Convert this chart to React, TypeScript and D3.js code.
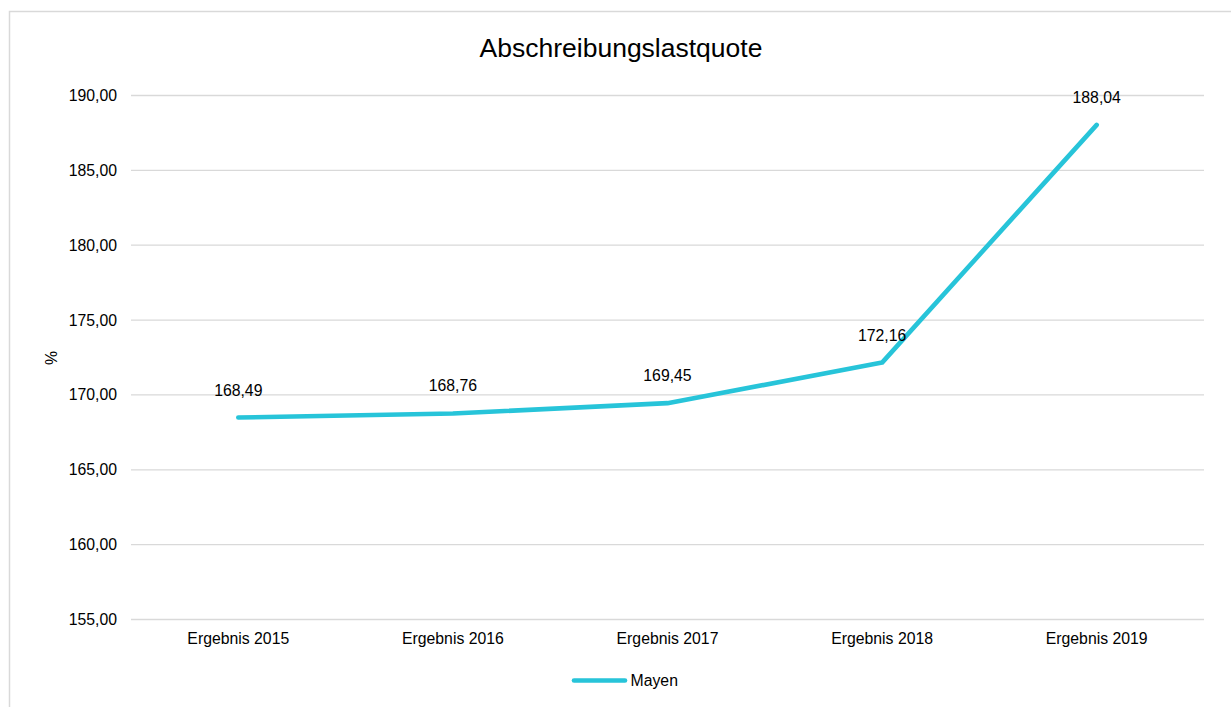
import React from "react";
import * as d3 from "d3";

const categories = ["Ergebnis 2015", "Ergebnis 2016", "Ergebnis 2017", "Ergebnis 2018", "Ergebnis 2019"];
const seriesName = "Mayen";
const values = [168.49, 168.76, 169.45, 172.16, 188.04];
const yTicks = [155, 160, 165, 170, 175, 180, 185, 190];
const title = "Abschreibungslastquote";
const yAxisLabel = "%";

const W = 1231;
const H = 707;
const FONT = "'Liberation Sans', Arial, sans-serif";
const LINE_COLOR = "#27C4D9";
const GRID_COLOR = "#D9D9D9";

const locale = d3.formatLocale({ decimal: ",", thousands: ".", grouping: [3], currency: ["", "€"] });
const fmt = locale.format(".2f");

export default function App() {
  const x = d3.scaleBand<string>().domain(categories).range([131, 1204]).padding(0);
  const y = d3.scaleLinear().domain([155, 190]).range([619.5, 95.5]);
  const cx = (c: string) => (x(c) as number) + x.bandwidth() / 2;

  const line = d3
    .line<number>()
    .x((_, i) => cx(categories[i]))
    .y((d) => y(d));

  return (
    <svg
      width={W}
      height={H}
      style={{ position: "absolute", left: 0, top: 0, background: "#fff" }}
      fontFamily={FONT}
    >
      <rect x={9.5} y={11.5} width={1240} height={720} fill="#fff" stroke={GRID_COLOR} strokeWidth={1.5} />
      <text x={621} y={57} textAnchor="middle" fontSize={26.5} fill="#000">
        {title}
      </text>
      {yTicks.map((t) => (
        <g key={t}>
          <line x1={131} x2={1204} y1={y(t)} y2={y(t)} stroke={GRID_COLOR} strokeWidth={1.3} />
          <text x={117} y={y(t)} dy="0.35em" textAnchor="end" fontSize={15.8} fill="#000">
            {fmt(t)}
          </text>
        </g>
      ))}
      <text
        transform={`translate(57,358) rotate(-90)`}
        textAnchor="middle"
        fontSize={15.8}
        fill="#000"
      >
        {yAxisLabel}
      </text>
      {categories.map((c) => (
        <text key={c} x={cx(c)} y={643.5} textAnchor="middle" fontSize={15.8} fill="#000">
          {c}
        </text>
      ))}
      <path
        d={line(values) || ""}
        fill="none"
        stroke={LINE_COLOR}
        strokeWidth={4.6}
        strokeLinecap="round"
        strokeLinejoin="round"
      />
      {values.map((v, i) => (
        <text key={i} x={cx(categories[i])} y={y(v) - 22} textAnchor="middle" fontSize={15.8} fill="#000">
          {fmt(v)}
        </text>
      ))}
      <line x1={574} x2={625} y1={680.5} y2={680.5} stroke={LINE_COLOR} strokeWidth={4.6} strokeLinecap="round" />
      <text x={630.5} y={686} fontSize={15.8} fill="#000">
        {seriesName}
      </text>
    </svg>
  );
}
